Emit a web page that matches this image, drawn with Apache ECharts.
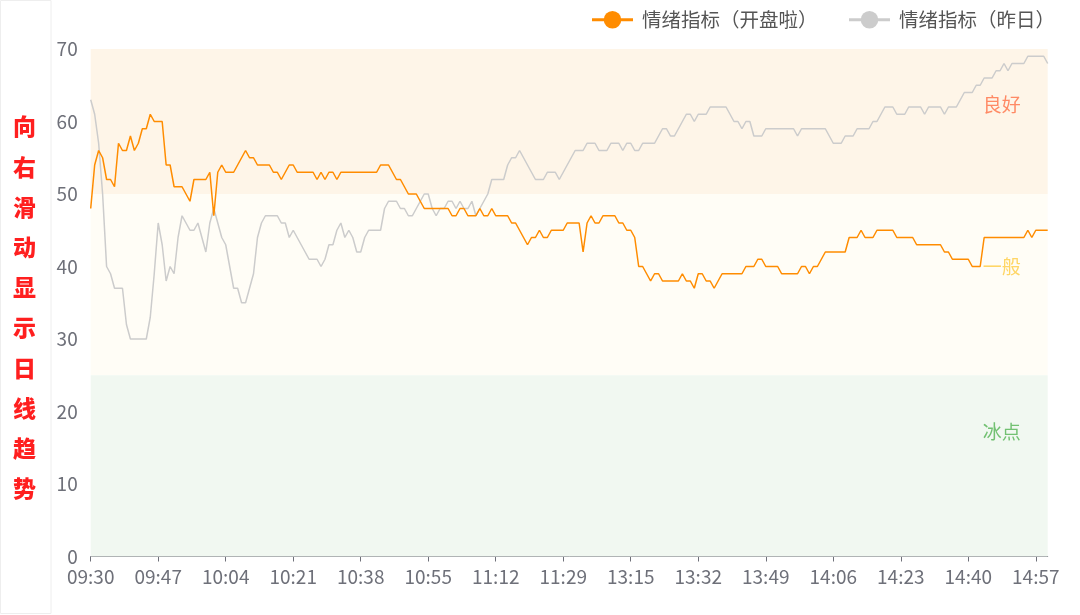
<!DOCTYPE html>
<html>
<head>
<meta charset="utf-8">
<script src="https://cdn.jsdelivr.net/npm/echarts@6/dist/echarts.min.js"></script>
<style>
html,body{margin:0;padding:0;background:#fff;}
#c{width:1080px;height:615px;}
</style>
</head>
<body>
<div id="c"></div>
<script>
// time categories: 09:30-11:30 and 13:00-15:00
function buildTimes(startH, startM, endH, endM) {
  var out = [];
  var t = startH * 60 + startM, e = endH * 60 + endM;
  for (; t <= e; t++) {
    var h = Math.floor(t / 60), m = t % 60;
    out.push((h < 10 ? '0' : '') + h + ':' + (m < 10 ? '0' : '') + m);
  }
  return out;
}
var categories = buildTimes(9, 30, 11, 30).concat(buildTimes(13, 0, 15, 0));

var seriesNames = ['情绪指标（开盘啦）', '情绪指标（昨日）'];

var todayValues = [
  48,54,56,55,52,52,51,57,56,56,
  58,56,57,59,59,61,60,60,60,54,
  54,51,51,51,50,49,52,52,52,52,
  53,47,53,54,53,53,53,54,55,56,
  55,55,54,54,54,54,53,53,52,53,
  54,54,53,53,53,53,53,52,53,52,
  53,53,52,53,53,53,53,53,53,53,
  53,53,53,54,54,54,53,52,52,51,
  50,50,50,49,48,48,48,48,48,48,
  48,47,47,48,48,47,47,47,48,47,
  47,48,47,47,47,47,46,46,45,44,
  43,44,44,45,44,44,45,45,45,45,
  46,46,46,46,42,46,47,46,46,47,
  47,47,47,46,46,45,45,44,40,40,
  39,38,39,39,38,38,38,38,38,39,
  38,38,37,39,39,38,38,37,38,39,
  39,39,39,39,39,40,40,40,41,41,
  40,40,40,40,39,39,39,39,39,40,
  40,39,40,40,41,42,42,42,42,42,
  42,44,44,44,45,44,44,44,45,45,
  45,45,45,44,44,44,44,44,43,43,
  43,43,43,43,43,42,42,41,41,41,
  41,41,40,40,40,44,44,44,44,44,
  44,44,44,44,44,44,45,44,45,45,
  45,45
];

var yesterdayValues = [
  63,61,57,50,40,39,37,37,37,32,
  30,30,30,30,30,33,39,46,43,38,
  40,39,44,47,46,45,45,46,44,42,
  46,48,46,44,43,40,37,37,35,35,
  37,39,44,46,47,47,47,47,46,46,
  44,45,44,43,42,41,41,41,40,41,
  43,43,45,46,44,45,44,42,42,44,
  45,45,45,45,48,49,49,49,48,48,
  47,47,48,49,50,50,48,47,48,48,
  49,49,48,49,48,48,49,47,48,49,
  50,52,52,52,52,54,55,55,56,55,
  54,53,52,52,52,53,53,53,52,53,
  54,55,56,56,56,57,57,57,56,56,
  56,57,57,57,56,57,57,56,56,57,
  57,57,57,58,59,59,58,58,59,60,
  61,61,60,61,61,61,62,62,62,62,
  62,61,60,60,59,60,60,58,58,58,
  59,59,59,59,59,59,59,59,58,59,
  59,59,59,59,59,59,58,57,57,57,
  58,58,58,59,59,59,59,60,60,61,
  62,62,62,61,61,61,62,62,62,62,
  61,62,62,62,62,61,62,62,62,63,
  64,64,64,65,65,66,66,66,67,67,
  68,67,68,68,68,68,69,69,69,69,
  69,68
];

var zoneNames = ['良好', '一般', '冰点'];
var zoneFrom = [50, 25, 0];
var zoneTo = [70, 50, 25];

var sideText = '向右滑动显示日线趋势';

var FONT = '"Noto Sans CJK SC", "Noto Sans", sans-serif';
var zoneFill = ['#fef5e8', '#fffdf6', '#f1f8f1'];
var zoneLabelColor = ['#ff8a65', '#ffd666', '#72c172'];
var zoneLabelPos = [[930, 56], [930, 73], [930, 57]];

var markData = zoneNames.map(function (n, k) {
  return [
    { name: n, yAxis: zoneFrom[k], itemStyle: { color: zoneFill[k] },
      label: { color: zoneLabelColor[k], position: zoneLabelPos[k] } },
    { yAxis: zoneTo[k] }
  ];
});

var chart = echarts.init(document.getElementById('c'), null, { renderer: 'canvas' });
chart.setOption({
  animation: false,
  backgroundColor: '#ffffff',
  textStyle: { fontFamily: FONT },
  grid: { left: 90.7, right: 32.3, top: 49, bottom: 58.5, containLabel: false },
  legend: {
    right: 20, top: 5,
    itemWidth: 41, itemHeight: 22, itemGap: 30,
    lineStyle: { width: 3 },
    textStyle: { fontSize: 19.5, color: '#555555', fontFamily: FONT, padding: [0, 0, 0, 4] },
    data: [seriesNames[0], seriesNames[1]]
  },
  graphic: [
    { type: 'rect', left: 0, top: 0, shape: { x: 0, y: 0, width: 50.5, height: 613 },
      style: { fill: 'rgba(0,0,0,0)', stroke: '#eeeeee', lineWidth: 1 }, silent: true },
    { type: 'text', left: 13, top: 'middle',
      style: { text: sideText.split('').join('\n'), fill: '#ff1f1f', fontSize: 23, fontWeight: 900,
               lineHeight: 40.2, fontFamily: FONT, align: 'center' } }
  ],
  xAxis: {
    type: 'category',
    data: categories,
    boundaryGap: false,
    axisLine: { lineStyle: { color: '#6e7079', width: 1 } },
    axisTick: { interval: 16, length: 5, lineStyle: { color: '#6e7079' } },
    axisLabel: { interval: 16, color: '#6e7079', fontSize: 19, margin: 11, fontFamily: FONT },
    splitLine: { show: false }
  },
  yAxis: {
    type: 'value',
    min: 0, max: 70, interval: 10,
    axisLine: { show: false },
    axisTick: { show: false },
    axisLabel: { color: '#6e7079', fontSize: 19, margin: 13, fontFamily: FONT },
    splitLine: { show: false }
  },
  series: [
    {
      name: seriesNames[0], type: 'line', data: todayValues,
      showSymbol: false, symbol: 'circle', symbolSize: 8,
      color: '#ff8c00',
      lineStyle: { color: '#ff8c00', width: 1.5 },
      z: 3,
      markArea: {
        silent: true,
        label: { show: true, fontSize: 19, align: 'right', verticalAlign: 'middle', fontFamily: FONT },
        data: markData
      }
    },
    {
      name: seriesNames[1], type: 'line', data: yesterdayValues,
      showSymbol: false, symbol: 'circle', symbolSize: 8,
      color: '#cccccc',
      lineStyle: { color: '#cccccc', width: 1.5 },
      z: 2
    }
  ]
});
</script>
</body>
</html>
